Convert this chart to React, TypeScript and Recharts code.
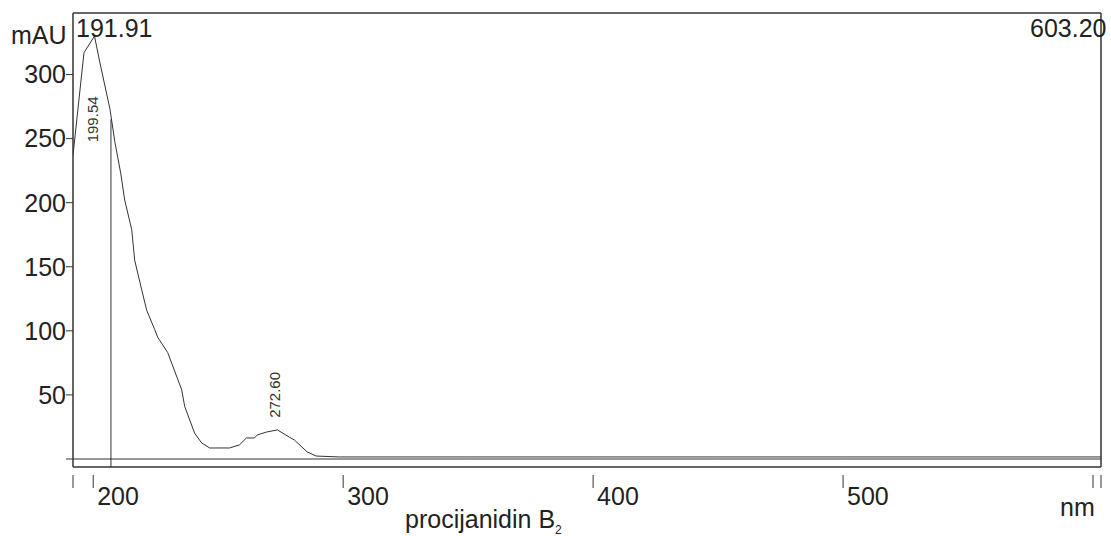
import {
  LineChart,
  Line,
  XAxis,
  YAxis,
  ReferenceLine,
  ReferenceDot,
} from "recharts";

const wavelengths = [
  191.91, 196.3, 200.5, 202.7, 206.7, 208.7, 211.0, 212.6, 215.4, 216.6,
  219.4, 221.4, 224.6, 225.8, 229.8, 235.4, 236.6, 240.6, 243.4, 246.6,
  254.5, 258.5, 261.3, 264.5, 265.7, 269.3, 273.7, 278.5, 280.5, 285.6,
  289.2, 298.4, 350, 400, 450, 500, 550, 603.2,
];
const absorbance = [
  237, 317, 330, 309, 273, 247, 223, 202, 179, 155,
  132, 116, 101, 95, 83, 54, 41, 20, 12.5, 8.6,
  8.6, 11, 16.4, 16.4, 18.8, 21, 22.7, 17, 14.8, 5.5,
  2.3, 1.6, 1.6, 1.6, 1.6, 1.6, 1.6, 1.6,
];

const xTicks = [191.91, 200, 300, 400, 500, 600, 603.2];
const xLabels = [200, 300, 400, 500];
const yTicks = [0, 50, 100, 150, 200, 250, 300];

const peaks = [
  { nm: 199.54, label: "199.54", at: 265 },
  { nm: 272.6, label: "272.60", at: 50 },
];
const dropLine = { nm: 207.1, value: 265 };

const X_MIN = 191.91;
const X_MAX = 603.2;
const Y_MIN = -6.25;
const Y_MAX = 348;

const data = wavelengths.map((nm, i) => ({ nm, mAU: absorbance[i] }));

const INK = "#333";
const FONT = "'Liberation Sans', Arial, sans-serif";

function XTick({ x, y, payload }: any) {
  const v = payload.value;
  return (
    <g>
      <line x1={x} y1={y} x2={x} y2={y + 13} stroke={INK} strokeWidth={1} />
      {xLabels.includes(v) && (
        <text x={x + 4} y={y + 30} fill="#222" fontSize={25} fontFamily={FONT}>
          {v}
        </text>
      )}
    </g>
  );
}

function PeakLabel({ viewBox, value }: any) {
  const cx = viewBox.x + (viewBox.width || 0) / 2;
  const cy = viewBox.y + (viewBox.height || 0) / 2;
  return (
    <text
      x={cx}
      y={cy}
      transform={`rotate(-90 ${cx} ${cy})`}
      textAnchor="middle"
      dominantBaseline="central"
      fill="#333"
      fontSize={15}
      fontFamily={FONT}
    >
      {value}
    </text>
  );
}

const txt = (extra: React.CSSProperties): React.CSSProperties => ({
  position: "absolute",
  fontFamily: FONT,
  fontSize: 25,
  color: "#222",
  lineHeight: 1,
  whiteSpace: "nowrap",
  ...extra,
});

export default function App() {
  return (
    <div style={{ position: "absolute", left: 0, top: 0, width: 1111, height: 536, background: "#fff" }}>
      <LineChart
        width={1111}
        height={536}
        data={data}
        margin={{ top: 13, right: 10, bottom: 0, left: 0 }}
      >
        <XAxis
          dataKey="nm"
          type="number"
          domain={[X_MIN, X_MAX]}
          ticks={xTicks}
          interval={0}
          allowDataOverflow
          height={69}
          tick={<XTick />}
          tickLine={false}
          axisLine={{ stroke: INK, strokeWidth: 1.5 }}
        />
        <YAxis
          type="number"
          domain={[Y_MIN, Y_MAX]}
          ticks={yTicks}
          interval={0}
          allowDataOverflow
          width={73}
          tickSize={7}
          tickMargin={0}
          tickFormatter={(v) => (v === 0 ? "" : String(v))}
          tick={{ fill: "#222", fontSize: 25, fontFamily: FONT }}
          tickLine={{ stroke: INK }}
          axisLine={{ stroke: INK, strokeWidth: 1.5 }}
        />
        {/* frame */}
        <ReferenceLine y={Y_MAX} stroke={INK} strokeWidth={1.5} />
        <ReferenceLine x={X_MAX} stroke={INK} strokeWidth={1.5} />
        {/* baseline */}
        <ReferenceLine y={0} stroke={INK} strokeWidth={1.2} />
        <ReferenceLine
          segment={[
            { x: dropLine.nm, y: Y_MIN },
            { x: dropLine.nm, y: dropLine.value },
          ]}
          stroke={INK}
          strokeWidth={1}
        />
        {peaks.map((p) => (
          <ReferenceDot
            key={p.label}
            x={p.nm}
            y={p.at}
            r={0}
            fill="none"
            stroke="none"
            label={<PeakLabel value={p.label} />}
          />
        ))}
        <Line
          type="linear"
          dataKey="mAU"
          stroke={INK}
          strokeWidth={1}
          dot={false}
          isAnimationActive={false}
        />
      </LineChart>
      <div style={txt({ left: 11, top: 23 })}>mAU</div>
      <div style={txt({ left: 76, top: 16 })}>191.91</div>
      <div style={txt({ left: 1030, top: 16 })}>603.20</div>
      <div style={txt({ left: 1060, top: 495 })}>nm</div>
      <div style={txt({ left: 405, top: 507 })}>
        procijanidin B<sub style={{ fontSize: 12, verticalAlign: "-6px" }}>2</sub>
      </div>
    </div>
  );
}
